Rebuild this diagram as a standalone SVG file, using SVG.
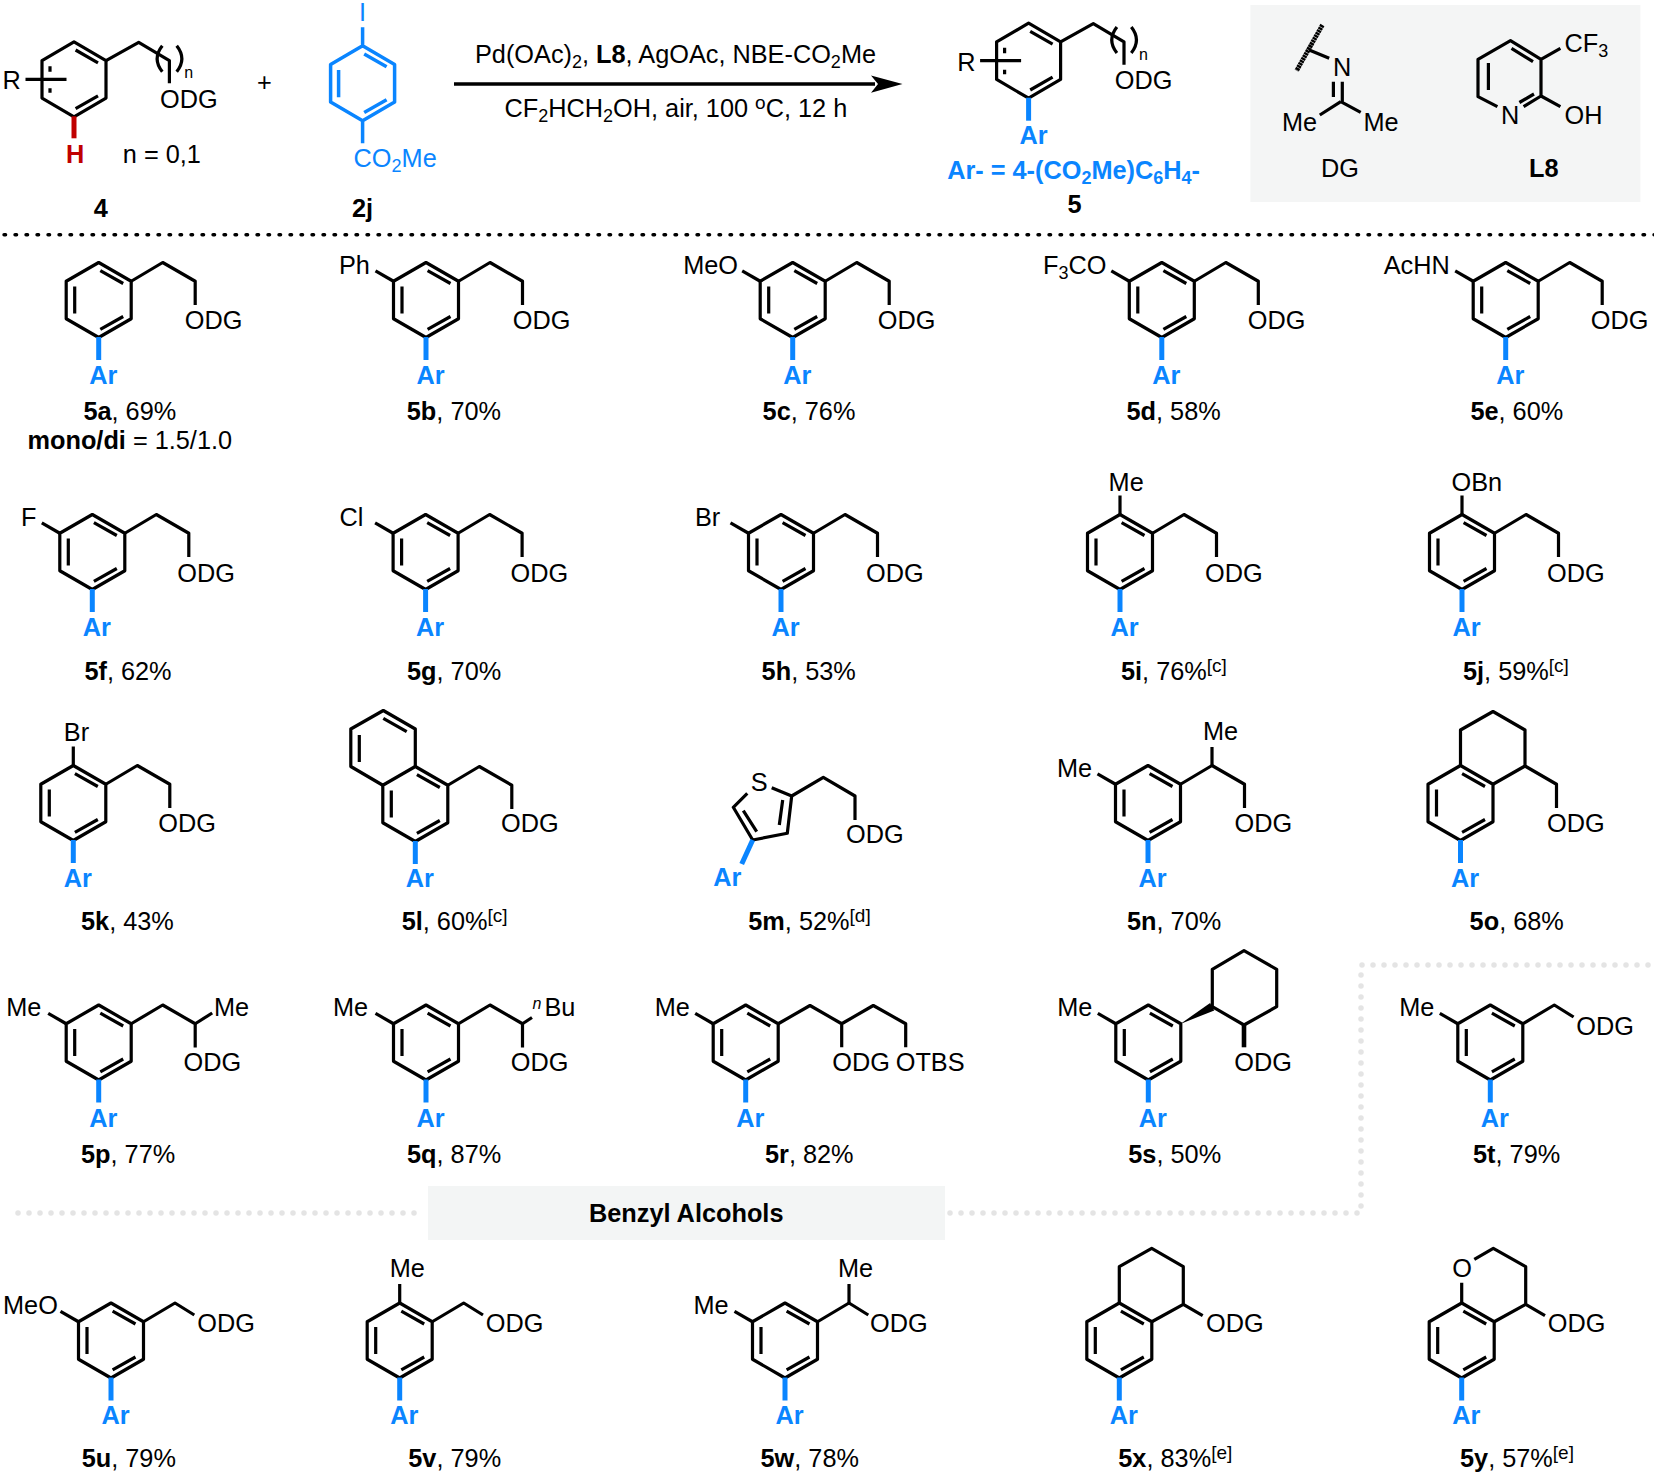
<svg xmlns="http://www.w3.org/2000/svg" xmlns:xlink="http://www.w3.org/1999/xlink" width="1654" height="1476" viewBox="0 0 1654 1476">
<style>
text{font-family:"Liberation Sans",Arial,sans-serif;font-size:25.3px;fill:#000}
.bd{fill:none;stroke:#000;stroke-width:3.2;stroke-linejoin:round;stroke-linecap:butt}
.bl{fill:none;stroke:#0a85ff;stroke-width:3.5;stroke-linejoin:round}
.st{fill:none;stroke:#0a85ff;stroke-width:5}
.hv{fill:none;stroke:#000;stroke-width:4.6}
text.ar{font-weight:700;fill:#0a85ff}
text.blue{fill:#0a85ff}
.b{font-weight:700}
.sub{font-size:18px}
.sup{font-size:19px}
text.n{font-size:16px}
.dot{fill:none;stroke:#e4e4e4;stroke-width:5.5;stroke-dasharray:0 11;stroke-linecap:round}
</style>
<defs>
<g id="ring"><path class="bd" d="M0-37.5L32.5-18.75V18.75L0 37.5L-32.5 18.75V-18.75ZM1.6-29.3L24.5-16.5M-24-13.5V13.5M1.6 29.3L24.5 16.5"/></g>
<g id="ring-r"><path class="bd" d="M0-37.5L32-18.75V18.75L0 37.5L-32 18.75V-18.75ZM1.6-29.3L24-16.5M-24-13V-7.5M-24 9V13.5M1.6 29.3L24 16.5M-48.5 0H-7.5"/><path class="bd" d="M32-18.75L64.7-37L95.4-18.75V4"/><path class="bd" d="M88.3-33.6Q78-20.6 88.3-7.6M102.7-33.6Q113-20.6 102.7-7.6"/></g>
<g id="arb"><path class="st" d="M0 37V60"/></g>
<path id="ch2" class="bd" d="M32.5-18.75L64-37.5L96.5-18.75V5"/>
<path id="chb" class="bd" d="M32.5-18.75L64-37.5L83.3-25.5"/>
<path id="lft" class="bd" d="M-32.5-18.75L-50.5-29.2"/>
<path id="tp" class="bd" d="M0-37.5V-56.5"/>
</defs>
<rect width="1654" height="1476" fill="#fff"/>
<rect x="1250.4" y="5" width="390" height="197" fill="#f4f5f5"/>
<rect x="428" y="1186" width="517" height="54" fill="#f3f5f5"/>

<g id="dividers">
<path d="M4 234.7H1654" fill="none" stroke="#000" stroke-width="3.4" stroke-linecap="round" stroke-dasharray="1.6 9.4"/>
<path class="dot" d="M18 1213H425"/>
<path class="dot" d="M950 1213H1361V965H1654"/>
<text class="b" x="589" y="1222">Benzyl Alcohols</text>
</g>

<g id="cpd-4">
<g transform="translate(74,79.3)"><use href="#ring-r"/><path d="M0 37V59" fill="none" stroke="#c00000" stroke-width="5"/></g>
<text x="2.6" y="89.3">R</text>
<text class="n" x="184.3" y="78.3">n</text>
<text x="160" y="107.5">ODG</text>
<text class="b" x="66" y="163.3" style="fill:#c00000">H</text>
<text x="122.8" y="163.3">n = 0,1</text>
<text class="b" x="93.7" y="216.7">4</text>
</g>
<text id="plus" x="257" y="91">+</text>
<g id="cpd-2j">
<g transform="translate(362.6,83.3)"><path class="bl" d="M0-37.5L32-18.75V18.75L0 37.5L-32 18.75V-18.75ZM1.6-29.3L24-16.5M-24-13.3V14M1.6 29.3L24 16.5M0-37V-56M0 37V60"/></g>
<text class="blue" x="359" y="20.7">I</text>
<text class="blue" x="353.6" y="166.7">CO<tspan class="sub" dy="5">2</tspan><tspan dy="-5">Me</tspan></text>
<text class="b" x="352" y="216.7">2j</text>
</g>
<g id="connectors">
<path d="M454 84H875" fill="none" stroke="#000" stroke-width="3.4"/>
<path d="M902.5 84L871 75.5L878 84L871 92.7Z" fill="#000"/>
</g>
<g id="conditions">
<text x="475" y="63.3">Pd(OAc)<tspan class="sub" dy="5">2</tspan><tspan dy="-5">, </tspan><tspan class="b">L8</tspan>, AgOAc, NBE-CO<tspan class="sub" dy="5">2</tspan><tspan dy="-5">Me</tspan></text>
<text x="504.5" y="116.7">CF<tspan class="sub" dy="5">2</tspan><tspan dy="-5">HCH</tspan><tspan class="sub" dy="5">2</tspan><tspan dy="-5">OH, air, 100 </tspan><tspan class="sup" dy="-8">o</tspan><tspan dy="8">C, 12 h</tspan></text>
</g>
<g id="cpd-5">
<g transform="translate(1028.6,60.7)"><use href="#ring-r"/><use href="#arb"/></g>
<text x="957.2" y="70.7">R</text>
<text class="n" x="1139" y="59.7">n</text>
<text x="1114.8" y="89.2">ODG</text>
<text class="ar" x="1019.5" y="144.3">Ar</text>
<text class="ar" x="947.2" y="179.3">Ar- = 4-(CO<tspan class="sub" dy="5">2</tspan><tspan dy="-5">Me)C</tspan><tspan class="sub" dy="5">6</tspan><tspan dy="-5">H</tspan><tspan class="sub" dy="5">4</tspan><tspan dy="-5">-</tspan></text>
<text class="b" x="1067.5" y="212.7">5</text>
</g>
<g id="dg">
<path d="M1322.4 25L1296.6 70.7" fill="none" stroke="#000" stroke-width="4.6" stroke-dasharray="2.4 .5"/>
<path class="bd" d="M1309.2 50L1329.2 58.3M1333.4 81.7V97M1342.3 81.7V101.7M1340.8 101.7L1319.8 115M1340.8 101.7L1360.7 112.3"/>
<text x="1333" y="76">N</text>
<text x="1282" y="130.7">Me</text>
<text x="1363.4" y="130.7">Me</text>
<text x="1321" y="176.7">DG</text>
</g>
<g id="l8">
<path class="bd" d="M1497.4 106.7L1478 96.7V59.3L1510.5 40.7L1541 59.3V96L1523.6 106.7M1534 94L1519.4 102.5M1488.4 63V90M1511.5 48.3L1533 61.7M1541 59.3L1560.4 48.3M1541 96L1560.4 106.7"/>
<text x="1501" y="124">N</text>
<text x="1564.6" y="51.7">CF<tspan class="sub" dy="5">3</tspan></text>
<text x="1564.6" y="124">OH</text>
<text class="b" x="1529" y="176.7">L8</text>
</g>

<g id="cpd-5a"><g transform="translate(98.7,300)"><use href="#ring"/><use href="#arb"/><use href="#ch2"/><text x="86" y="28.7">ODG</text><text class="ar" x="-9.5" y="84">Ar</text></g>
<text x="83.4" y="420"><tspan class="b">5a</tspan>, 69%</text>
<text x="27.5" y="449"><tspan class="b">mono/di</tspan> = 1.5/1.0</text></g>

<g id="cpd-5b"><g transform="translate(426,300)"><use href="#ring"/><use href="#arb"/><use href="#ch2"/><use href="#lft"/><text x="-87" y="-26">Ph</text><text x="86.8" y="28.7">ODG</text><text class="ar" x="-9.5" y="84">Ar</text></g>
<text x="406.8" y="420"><tspan class="b">5b</tspan>, 70%</text></g>

<g id="cpd-5c"><g transform="translate(792.7,300)"><use href="#ring"/><use href="#arb"/><use href="#ch2"/><use href="#lft"/><text x="-109.5" y="-26">MeO</text><text x="85" y="28.7">ODG</text><text class="ar" x="-9.5" y="84">Ar</text></g>
<text x="762.6" y="420"><tspan class="b">5c</tspan>, 76%</text></g>

<g id="cpd-5d"><g transform="translate(1161.8,300)"><use href="#ring"/><use href="#arb"/><use href="#ch2"/><use href="#lft"/><text x="-118.8" y="-26">F<tspan class="sub" dy="5">3</tspan><tspan dy="-5">CO</tspan></text><text x="86" y="28.7">ODG</text><text class="ar" x="-9.5" y="84">Ar</text></g>
<text x="1126.5" y="420"><tspan class="b">5d</tspan>, 58%</text></g>

<g id="cpd-5e"><g transform="translate(1505.7,300)"><use href="#ring"/><use href="#arb"/><use href="#ch2"/><use href="#lft"/><text x="-122" y="-26">AcHN</text><text x="85" y="28.7">ODG</text><text class="ar" x="-9.5" y="84">Ar</text></g>
<text x="1470.4" y="420"><tspan class="b">5e</tspan>, 60%</text></g>

<g id="cpd-5f"><g transform="translate(92.3,552)"><use href="#ring"/><use href="#arb"/><use href="#ch2"/><use href="#lft"/><text x="-71.3" y="-26">F</text><text x="85" y="29.6">ODG</text><text class="ar" x="-9.5" y="84">Ar</text></g>
<text x="84.4" y="680.4"><tspan class="b">5f</tspan>, 62%</text></g>

<g id="cpd-5g"><g transform="translate(425.6,552)"><use href="#ring"/><use href="#arb"/><use href="#ch2"/><use href="#lft"/><text x="-86" y="-26">Cl</text><text x="85" y="29.6">ODG</text><text class="ar" x="-9.5" y="84">Ar</text></g>
<text x="407" y="680.4"><tspan class="b">5g</tspan>, 70%</text></g>

<g id="cpd-5h"><g transform="translate(781,552)"><use href="#ring"/><use href="#arb"/><use href="#ch2"/><use href="#lft"/><text x="-86" y="-26">Br</text><text x="85" y="29.6">ODG</text><text class="ar" x="-9.5" y="84">Ar</text></g>
<text x="761.6" y="680.4"><tspan class="b">5h</tspan>, 53%</text></g>

<g id="cpd-5i"><g transform="translate(1120,552)"><use href="#ring"/><use href="#arb"/><use href="#ch2"/><use href="#tp"/><text x="-11.4" y="-61.5">Me</text><text x="85" y="29.6">ODG</text><text class="ar" x="-9.5" y="84">Ar</text></g>
<text x="1121" y="680.4"><tspan class="b">5i</tspan>, 76%<tspan class="sup" dy="-8">[c]</tspan></text></g>

<g id="cpd-5j"><g transform="translate(1462,552)"><use href="#ring"/><use href="#arb"/><use href="#ch2"/><use href="#tp"/><text x="-10.5" y="-61.5">OBn</text><text x="85" y="29.6">ODG</text><text class="ar" x="-9.5" y="84">Ar</text></g>
<text x="1463" y="680.4"><tspan class="b">5j</tspan>, 59%<tspan class="sup" dy="-8">[c]</tspan></text></g>

<g id="cpd-5k"><g transform="translate(73.3,803)"><use href="#ring"/><use href="#arb"/><use href="#ch2"/><use href="#tp"/><text x="-9.5" y="-62">Br</text><text x="85" y="28.7">ODG</text><text class="ar" x="-9.5" y="84">Ar</text></g>
<text x="81" y="930"><tspan class="b">5k</tspan>, 43%</text></g>

<g id="cpd-5l"><g transform="translate(415.3,804)"><use href="#ring"/><use href="#arb"/><use href="#ch2"/><path class="bd" d="M-32.5-18.75L-64.5-37.5V-75L-32-93.5L0-75V-37.5M-56-69V-42M-32-85.7L-8.6-72.3"/><text x="85.7" y="27.7">ODG</text><text class="ar" x="-9.5" y="83">Ar</text></g>
<text x="401.7" y="930"><tspan class="b">5l</tspan>, 60%<tspan class="sup" dy="-8">[c]</tspan></text></g>

<g id="cpd-5m">
<path class="bd" d="M747.3 793.3L733.3 807.3L752.7 840L787.3 833.3L791.7 796L771.7 787.7M782.7 800L779.3 825M743.3 810.7L756.7 831.7M791.7 796L823.3 777.3L855 796V820"/>
<path class="st" d="M752.7 840L741.7 864"/>
<text x="750.7" y="791">S</text>
<text x="846" y="842.7">ODG</text>
<text class="ar" x="713.3" y="886">Ar</text>
<text x="748.3" y="930"><tspan class="b">5m</tspan>, 52%<tspan class="sup" dy="-8">[d]</tspan></text></g>

<g id="cpd-5n"><g transform="translate(1148,803)"><use href="#ring"/><use href="#arb"/><use href="#ch2"/><use href="#lft"/><path class="bd" d="M64-37.5V-56"/><text x="55" y="-63">Me</text><text x="-91" y="-26.3">Me</text><text x="86.6" y="28.7">ODG</text><text class="ar" x="-9.5" y="84">Ar</text></g>
<text x="1127" y="930"><tspan class="b">5n</tspan>, 70%</text></g>

<g id="cpd-5o"><g transform="translate(1460.5,803)"><use href="#ring"/><use href="#arb"/><path class="bd" d="M0-37.5V-73L32.5-91.5L64.5-73V-37L32.5-18.75M64.5-37L96-18.75V5"/><text x="86.5" y="28.7">ODG</text><text class="ar" x="-9.5" y="84">Ar</text></g>
<text x="1469.6" y="930"><tspan class="b">5o</tspan>, 68%</text></g>

<g id="cpd-5p"><g transform="translate(98.7,1042.5)"><use href="#ring"/><use href="#arb"/><use href="#ch2"/><use href="#lft"/><path class="bd" d="M96.5-18.75L113.5-29.5"/><text x="-92.5" y="-26.5">Me</text><text x="115.3" y="-26.5">Me</text><text x="84.8" y="28.5">ODG</text><text class="ar" x="-9.5" y="84">Ar</text></g>
<text x="81" y="1163"><tspan class="b">5p</tspan>, 77%</text></g>

<g id="cpd-5q"><g transform="translate(426,1042.5)"><use href="#ring"/><use href="#arb"/><use href="#ch2"/><use href="#lft"/><path class="bd" d="M96.5-18.75L106-25"/><text x="-93" y="-26.5">Me</text><text class="n" x="106.5" y="-34" style="font-style:italic">n</text><text x="118.5" y="-26.5">Bu</text><text x="84.8" y="28.5">ODG</text><text class="ar" x="-9.5" y="84">Ar</text></g>
<text x="407" y="1163"><tspan class="b">5q</tspan>, 87%</text></g>

<g id="cpd-5r"><g transform="translate(745.7,1042.5)"><use href="#ring"/><use href="#arb"/><use href="#lft"/><path class="bd" d="M32.5-18.75L64.3-37L96-18.75L127.6-37L160-18.75V4.8M96-18.75V4.8"/><text x="-91" y="-26.5">Me</text><text x="86.6" y="28.5">ODG</text><text x="150" y="28.5">OTBS</text><text class="ar" x="-9.5" y="84">Ar</text></g>
<text x="765" y="1163"><tspan class="b">5r</tspan>, 82%</text></g>

<g id="cpd-5s"><g transform="translate(1148.3,1042.5)"><use href="#ring"/><use href="#arb"/><use href="#lft"/><path class="bd" d="M64-35.8V-73.2L95.7-91.8L128.4-73.2V-35.8L95.7-17.5Z"/><polygon points="32,-18.6 61.8,-39.4 66,-32"/><path class="hv" d="M95.7-17.5V4.8"/><text x="-91" y="-26.5">Me</text><text x="86" y="28.7">ODG</text><text class="ar" x="-9.5" y="84">Ar</text></g>
<text x="1128.3" y="1163"><tspan class="b">5s</tspan>, 50%</text></g>

<g id="cpd-5t"><g transform="translate(1490.3,1042.5)"><use href="#ring"/><use href="#arb"/><use href="#lft"/><use href="#chb"/><text x="-91" y="-26.5">Me</text><text x="86" y="-7.5">ODG</text><text class="ar" x="-9.5" y="84">Ar</text></g>
<text x="1473" y="1163"><tspan class="b">5t</tspan>, 79%</text></g>

<g id="cpd-5u"><g transform="translate(111,1340.5)"><use href="#ring"/><use href="#arb"/><use href="#lft"/><use href="#chb"/><text x="-108" y="-26.2">MeO</text><text x="86.3" y="-8.4">ODG</text><text class="ar" x="-9.5" y="83.5">Ar</text></g>
<text x="81.7" y="1466.7"><tspan class="b">5u</tspan>, 79%</text></g>

<g id="cpd-5v"><g transform="translate(399.7,1340.5)"><use href="#ring"/><use href="#arb"/><use href="#tp"/><use href="#chb"/><text x="-10" y="-63.2">Me</text><text x="86" y="-8.4">ODG</text><text class="ar" x="-9.5" y="83.5">Ar</text></g>
<text x="408.3" y="1466.7"><tspan class="b">5v</tspan>, 79%</text></g>

<g id="cpd-5w"><g transform="translate(785,1340.5)"><use href="#ring"/><use href="#arb"/><use href="#lft"/><use href="#chb"/><path class="bd" d="M64-37.5V-56.5"/><text x="-91.5" y="-26.2">Me</text><text x="53" y="-63.5">Me</text><text x="85" y="-8.4">ODG</text><text class="ar" x="-9.5" y="83.5">Ar</text></g>
<text x="760.5" y="1466.7"><tspan class="b">5w</tspan>, 78%</text></g>

<g id="cpd-5x"><g transform="translate(1119.3,1340.5)"><use href="#ring"/><use href="#arb"/><path class="bd" d="M0-37.5V-73.8L32.4-92.2L64-73.8V-36.2L32.5-18.75M64-36.2L83.4-24.8"/><text x="86.7" y="-8.4">ODG</text><text class="ar" x="-9.5" y="83.5">Ar</text></g>
<text x="1118.3" y="1466.7"><tspan class="b">5x</tspan>, 83%<tspan class="sup" dy="-8">[e]</tspan></text></g>

<g id="cpd-5y"><g transform="translate(1461.7,1340.5)"><use href="#ring"/><use href="#arb"/><path class="bd" d="M0-37.5V-57.8M12.6-81.2L31.6-92.2L64-73.8V-36.2L32.5-18.75M64-36.2L83.3-24.8"/><text x="-9.5" y="-63.8">O</text><text x="86" y="-8.4">ODG</text><text class="ar" x="-9.5" y="83.5">Ar</text></g>
<text x="1460" y="1466.7"><tspan class="b">5y</tspan>, 57%<tspan class="sup" dy="-8">[e]</tspan></text></g>
</svg>
